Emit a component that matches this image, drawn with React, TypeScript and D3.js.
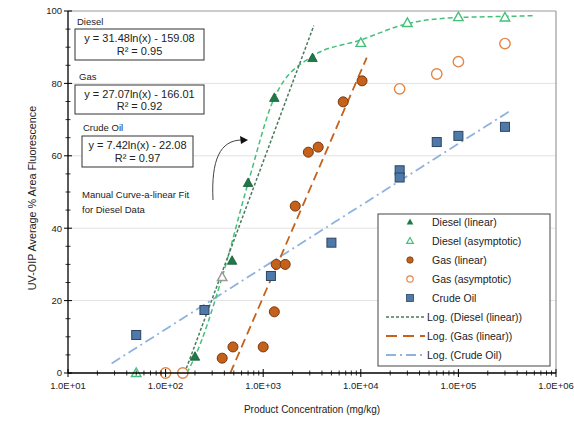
import React from "react";
import * as d3 from "d3";

// Concentrations (mg/kg) and responses (% area fluorescence)
const dieselLinX = [200, 480, 700, 1300, 3200];
const dieselLinY = [4.5, 31, 52.5, 76, 87];
const dieselAsymX = [50, 380, 10000, 30000, 100000, 300000];
const dieselAsymY = [0, 26.5, 91.2, 96.7, 98.3, 98.2];
const gasLinX = [380, 490, 1000, 1300, 1360, 1680, 2130, 2900, 3660, 6600, 10300];
const gasLinY = [4.1, 7.2, 7.2, 16.9, 30, 30, 46.1, 61, 62.4, 74.9, 80.7];
const gasAsymX = [100, 150, 25000, 60000, 100000, 300000];
const gasAsymY = [0, 0, 78.5, 82.6, 86, 91];
const crudeX = [50, 250, 1200, 5000, 25000, 25000, 60000, 100000, 300000];
const crudeY = [10.5, 17.4, 26.8, 36, 56, 54, 63.8, 65.5, 68];

// Hand-drawn curve through the diesel data
const manualX = [165, 200, 380, 700, 1300, 3200, 10000, 30000, 100000, 300000, 600000];
const manualY = [0, 4.5, 26.5, 52.5, 76, 87.5, 92, 96.5, 98.2, 98.5, 98.7];

// Logarithmic trendlines y = a ln(x) + b
const dieselFit = { a: 31.48, b: -159.08, r2: "0.95", x1: 3300 };
const gasFit = { a: 27.07, b: -166.01, r2: "0.92", x1: 11500 };
const crudeFit = { a: 7.42, b: -22.08, r2: "0.97", x0: 28, x1: 340000 };

const xTickLabels = ["1.0E+01", "1.0E+02", "1.0E+03", "1.0E+04", "1.0E+05", "1.0E+06"];
const xTickValues = [1e1, 1e2, 1e3, 1e4, 1e5, 1e6];
const yTickValues = [0, 20, 40, 60, 80, 100];

const legendItems = [
  "Diesel (linear)",
  "Diesel (asymptotic)",
  "Gas (linear)",
  "Gas (asymptotic)",
  "Crude Oil",
  "Log. (Diesel (linear))",
  "Log. (Gas (linear))",
  "Log. (Crude Oil)",
];

const C = {
  dieselDark: "#1f7a47",
  dieselLight: "#45c07a",
  gasFill: "#c4621c",
  gasEdge: "#7a3810",
  gasOpen: "#e0874a",
  crudeFill: "#4f79a8",
  crudeEdge: "#2b4563",
  crudeLine: "#8fb3de",
  dieselFitLine: "#4a7a5c",
};

const FONT = "'Liberation Sans', Arial, sans-serif";

export default function App() {
  const W = 574;
  const H = 421;
  const x = d3.scaleLog().domain([10, 1e6]).range([68, 556]);
  const y = d3.scaleLinear().domain([0, 100]).range([373, 11]);

  const fitPath = (a: number, b: number, x0: number, x1: number) => {
    const xs = d3.range(0, 81).map((i) => Math.exp(Math.log(x0) + (i / 80) * (Math.log(x1) - Math.log(x0))));
    return d3.line<number>().x((v) => x(v)).y((v) => y(a * Math.log(v) + b))(xs) || "";
  };
  const zeroX = (a: number, b: number) => Math.exp(-b / a);

  const manualPath =
    d3
      .line<number>()
      .x((_, i) => x(manualX[i]))
      .y((v) => y(v))
      .curve(d3.curveMonotoneX)(manualY) || "";

  const tri = (cx: number, cy: number, s = 4.5) =>
    `M${cx},${cy - s}L${cx + s * 0.95},${cy + s * 0.7}L${cx - s * 0.95},${cy + s * 0.7}Z`;

  const minorX: number[] = [];
  for (let e = 1; e < 6; e++) for (let m = 2; m <= 9; m++) minorX.push(m * Math.pow(10, e));
  const minorY = d3.range(0, 101, 5).filter((v) => v % 20 !== 0);

  const legendTop = 222;
  const legendStep = 19;

  return (
    <svg width={W} height={H} style={{ position: "absolute", left: 0, top: 0, background: "#fff" }} fontFamily={FONT}>
      <rect x={0} y={0} width={W} height={H} fill="#fff" />
      {/* gridlines */}
      {[20, 40, 60, 80].map((v) => (
        <line key={v} x1={x(10)} x2={x(1e6)} y1={y(v)} y2={y(v)} stroke="#e2e2e2" strokeWidth={1} />
      ))}
      {/* plot frame top/right */}
      <line x1={x(10)} x2={x(1e6)} y1={y(100)} y2={y(100)} stroke="#9a9a9a" strokeWidth={1.2} />
      <line x1={x(1e6)} x2={x(1e6)} y1={y(100)} y2={y(0)} stroke="#9a9a9a" strokeWidth={1.2} />

      {/* trendlines */}
      <path d={fitPath(crudeFit.a, crudeFit.b, crudeFit.x0, crudeFit.x1)} fill="none" stroke={C.crudeLine} strokeWidth={1.8} strokeDasharray="10,4,2,4" />
      <path d={manualPath} fill="none" stroke={C.dieselLight} strokeWidth={1.5} strokeDasharray="5,3" />
      <path d={fitPath(dieselFit.a, dieselFit.b, zeroX(dieselFit.a, dieselFit.b), dieselFit.x1)} fill="none" stroke={C.dieselFitLine} strokeWidth={1.5} strokeDasharray="3,2" />
      <path d={fitPath(gasFit.a, gasFit.b, zeroX(gasFit.a, gasFit.b), gasFit.x1)} fill="none" stroke={C.gasFill} strokeWidth={1.8} strokeDasharray="9,5" />

      {/* crude oil */}
      {crudeX.map((v, i) => (
        <rect key={"c" + i} x={x(v) - 4.5} y={y(crudeY[i]) - 4.5} width={9} height={9} fill={C.crudeFill} stroke={C.crudeEdge} strokeWidth={1} />
      ))}
      {/* gas asymptotic */}
      {gasAsymX.map((v, i) => (
        <circle key={"ga" + i} cx={x(v)} cy={y(gasAsymY[i])} r={5.2} fill="#fff" stroke={C.gasOpen} strokeWidth={1.4} />
      ))}
      {/* gas linear */}
      {gasLinX.map((v, i) => (
        <circle key={"gl" + i} cx={x(v)} cy={y(gasLinY[i])} r={5} fill={C.gasFill} stroke={C.gasEdge} strokeWidth={1} />
      ))}
      {/* diesel asymptotic */}
      {dieselAsymX.map((v, i) => (
        <path key={"da" + i} d={tri(x(v), y(dieselAsymY[i]), 5)} fill="#fff" stroke={i === 1 ? "#9a9a9a" : C.dieselLight} strokeWidth={1.4} />
      ))}
      {/* diesel linear */}
      {dieselLinX.map((v, i) => (
        <path key={"dl" + i} d={tri(x(v), y(dieselLinY[i]), 5)} fill={C.dieselDark} stroke="#155a33" strokeWidth={0.8} />
      ))}

      {/* axes */}
      <line x1={x(10)} x2={x(10)} y1={y(100)} y2={y(0)} stroke="#000" strokeWidth={1.3} />
      <line x1={x(10)} x2={x(1e6)} y1={y(0)} y2={y(0)} stroke="#000" strokeWidth={1.3} />
      {yTickValues.map((v) => (
        <g key={"yt" + v}>
          <line x1={x(10) - 4} x2={x(10) + 4} y1={y(v)} y2={y(v)} stroke="#000" strokeWidth={1} />
          <text x={62} y={y(v)} dy="0.35em" textAnchor="end" fontSize={9.5} fill="#222">{v}</text>
        </g>
      ))}
      {minorY.map((v) => (
        <line key={"ym" + v} x1={x(10) - 2.5} x2={x(10) + 2.5} y1={y(v)} y2={y(v)} stroke="#000" strokeWidth={0.8} />
      ))}
      {xTickValues.map((v, i) => (
        <g key={"xt" + v}>
          <line x1={x(v)} x2={x(v)} y1={y(0) - 4} y2={y(0) + 4} stroke="#000" strokeWidth={1} />
          <text x={x(v)} y={389} textAnchor="middle" fontSize={9.5} fill="#222">{xTickLabels[i]}</text>
        </g>
      ))}
      {minorX.map((v) => (
        <line key={"xm" + v} x1={x(v)} x2={x(v)} y1={y(0) - 2.5} y2={y(0) + 2.5} stroke="#000" strokeWidth={0.8} />
      ))}

      {/* axis titles */}
      <text x={312} y={413} textAnchor="middle" fontSize={10} fill="#222">Product Concentration (mg/kg)</text>
      <text transform="translate(36,198) rotate(-90)" textAnchor="middle" fontSize={10.8} fill="#222">UV-OIP Average % Area Fluorescence</text>

      {/* equation boxes */}
      <text x={77} y={25} fontSize={9.5} fill="#222">Diesel</text>
      <rect x={75} y={29} width={129} height={31} fill="#fff" stroke="#333" strokeWidth={1} />
      <text x={139.5} y={42} textAnchor="middle" fontSize={11} fill="#222">{`y = ${dieselFit.a}ln(x) - ${Math.abs(dieselFit.b).toFixed(2)}`}</text>
      <text x={139.5} y={55} textAnchor="middle" fontSize={11} fill="#222">R² = {dieselFit.r2}</text>

      <text x={79} y={80} fontSize={9.5} fill="#222">Gas</text>
      <rect x={75} y={85} width={129} height={29} fill="#fff" stroke="#333" strokeWidth={1} />
      <text x={139.5} y={97.5} textAnchor="middle" fontSize={11} fill="#222">{`y = ${gasFit.a}ln(x) - ${Math.abs(gasFit.b).toFixed(2)}`}</text>
      <text x={139.5} y={110} textAnchor="middle" fontSize={11} fill="#222">R² = {gasFit.r2}</text>

      <text x={83} y={131} fontSize={9.5} fill="#222">Crude Oil</text>
      <rect x={82} y={136} width={111} height={31} fill="#fff" stroke="#333" strokeWidth={1} />
      <text x={137.5} y={149} textAnchor="middle" fontSize={11} fill="#222">{`y = ${crudeFit.a}ln(x) - ${Math.abs(crudeFit.b).toFixed(2)}`}</text>
      <text x={137.5} y={162} textAnchor="middle" fontSize={11} fill="#222">R² = {crudeFit.r2}</text>

      {/* annotation */}
      <text x={82} y={198} fontSize={9.5} fill="#222">Manual Curve-a-linear Fit</text>
      <text x={82} y={213} fontSize={9.5} fill="#222">for Diesel Data</text>
      <path d="M213,200 C211,160 220,140 242,140" fill="none" stroke="#444" strokeWidth={1} />
      <path d="M248,140 L240,136 L241,144 Z" fill="#111" />

      {/* legend */}
      <rect x={378} y={214} width={172} height={152} fill="#fff" stroke="#444" strokeWidth={1} />
      {legendItems.map((t, i) => {
        const ly = legendTop + i * legendStep;
        let sym: React.ReactNode = null;
        if (i === 0) sym = <path d={tri(410, ly, 3.5)} fill={C.dieselDark} />;
        if (i === 1) sym = <path d={tri(410, ly, 3.5)} fill="#fff" stroke={C.dieselLight} strokeWidth={1.2} />;
        if (i === 2) sym = <circle cx={410} cy={ly} r={3.2} fill={C.gasFill} stroke={C.gasEdge} strokeWidth={0.8} />;
        if (i === 3) sym = <circle cx={410} cy={ly} r={3.2} fill="#fff" stroke={C.gasOpen} strokeWidth={1.2} />;
        if (i === 4) sym = <rect x={406.5} y={ly - 3.5} width={7} height={7} fill={C.crudeFill} stroke={C.crudeEdge} strokeWidth={0.8} />;
        if (i === 5) sym = <line x1={386} x2={425} y1={ly} y2={ly} stroke={C.dieselFitLine} strokeWidth={1.5} strokeDasharray="3,2" />;
        if (i === 6) sym = <line x1={386} x2={425} y1={ly} y2={ly} stroke={C.gasFill} strokeWidth={1.8} strokeDasharray="11,6" />;
        if (i === 7) sym = <line x1={386} x2={425} y1={ly} y2={ly} stroke={C.crudeLine} strokeWidth={1.8} strokeDasharray="10,4,2,4" />;
        return (
          <g key={t}>
            {sym}
            <text x={i >= 5 ? 427 : 432} y={ly} dy="0.35em" fontSize={10.5} fill="#222">{t}</text>
          </g>
        );
      })}
    </svg>
  );
}
